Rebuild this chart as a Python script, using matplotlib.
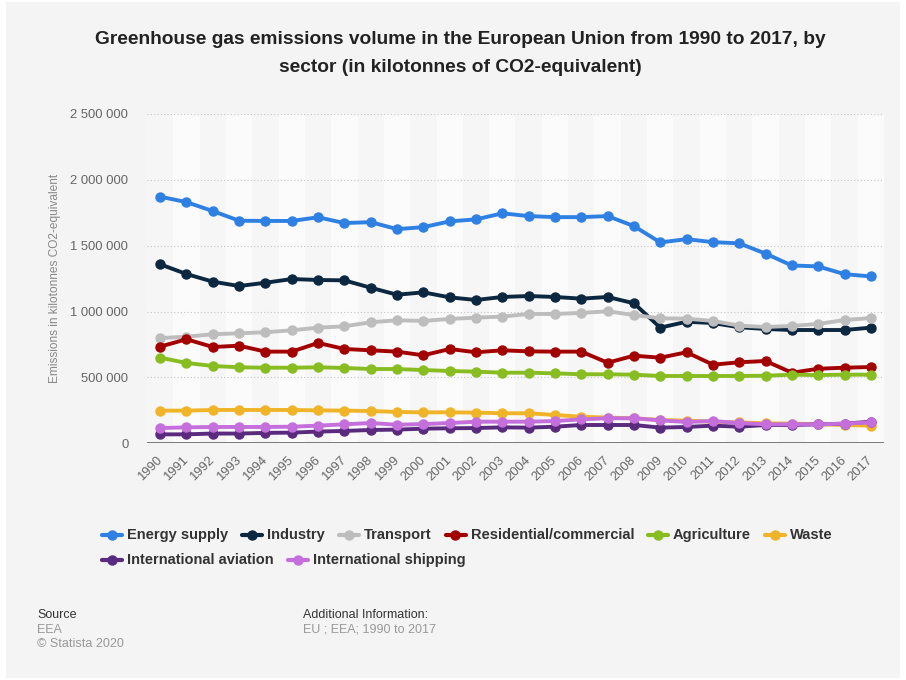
import matplotlib
matplotlib.use('Agg')
import matplotlib.pyplot as plt
from matplotlib.lines import Line2D
from matplotlib.patches import Rectangle
from matplotlib.ticker import FuncFormatter

plt.rcParams['font.family'] = ['Liberation Sans', 'DejaVu Sans']

years = list(range(1990, 2018))

# kilotonnes CO2-equivalent
energy_supply = [1872, 1831, 1763, 1690, 1688, 1688, 1716, 1672, 1679, 1626, 1641, 1685, 1700, 1746,
                 1725, 1717, 1717, 1725, 1649, 1525, 1550, 1527, 1518, 1440, 1350, 1343, 1284, 1267]
industry = [1359, 1285, 1227, 1194, 1219, 1247, 1240, 1237, 1181, 1128, 1146, 1108, 1088, 1111,
            1118, 1111, 1098, 1111, 1063, 878, 923, 913, 881, 868, 860, 860, 860, 878]
transport = [799, 809, 828, 835, 843, 858, 878, 888, 919, 934, 929, 944, 954, 962,
             982, 982, 990, 1002, 974, 949, 946, 929, 893, 883, 891, 906, 936, 951]
residential = [734, 790, 731, 741, 696, 696, 762, 716, 706, 696, 668, 716, 691, 706,
               698, 696, 696, 612, 665, 650, 691, 597, 615, 625, 536, 566, 574, 579]
agriculture = [650, 610, 587, 577, 574, 574, 577, 572, 564, 564, 556, 549, 544, 536,
               536, 531, 524, 524, 521, 511, 511, 511, 511, 513, 521, 518, 521, 521]
waste = [248, 248, 253, 253, 253, 253, 250, 248, 245, 238, 235, 235, 233, 228,
         228, 215, 202, 195, 190, 177, 172, 164, 159, 152, 149, 144, 139, 134]
aviation = [68, 68, 74, 74, 79, 81, 89, 94, 101, 104, 111, 114, 116, 121,
            119, 126, 139, 139, 139, 119, 124, 134, 126, 139, 139, 144, 149, 164]
shipping = [116, 121, 124, 124, 124, 126, 134, 144, 154, 141, 146, 154, 164, 164,
            164, 169, 182, 190, 190, 174, 162, 169, 154, 144, 144, 144, 149, 159]

names = ['Energy supply', 'Industry', 'Transport', 'Residential/commercial',
         'Agriculture', 'Waste', 'International aviation', 'International shipping']
values = [energy_supply, industry, transport, residential, agriculture, waste, aviation, shipping]
colors = ['#2f80e3', '#0c2740', '#bdbdbd', '#a30000', '#88bd22', '#f0b429', '#5a2a7e', '#c46fdc']

W, H = 906, 680
fig = plt.figure(figsize=(W / 100, H / 100), dpi=100, facecolor='white')
fig.patches.append(Rectangle((6 / W, 2 / H), 894 / W, 676 / H, transform=fig.transFigure,
                             facecolor='#f4f4f4', edgecolor='none', zorder=-10))

ax = fig.add_axes([147 / W, 1 - 443.3 / H, 737 / W, 329.3 / H])
ax.set_facecolor('#f6f6f6')
for y in years:
    if y % 2:
        ax.axvspan(y - 0.5, y + 0.5, color='#fbfbfb', lw=0, zorder=0)

for name, vals, c in zip(names, values, colors):
    ax.plot(years, [v * 1000 for v in vals], color=c, lw=2.8, marker='o', ms=6.5,
            mec=c, mfc=c, zorder=3, solid_capstyle='round')

ax.set_xlim(1989.5, 2017.5)
ax.set_ylim(0, 2500000)
ax.set_yticks(range(0, 2500001, 500000))
ax.yaxis.set_major_formatter(FuncFormatter(lambda v, p: f"{int(v):,}".replace(',', ' ')))
ax.yaxis.grid(True, ls=(0, (1, 2)), color='#c4c4c4', lw=0.8)
ax.set_axisbelow(True)
ax.axhline(0, color='#6e6e6e', lw=1.3, zorder=2)
for s in ax.spines.values():
    s.set_visible(False)
ax.tick_params(axis='y', length=0, pad=13.5, labelsize=9.4, labelcolor='#666666')
ax.tick_params(axis='x', length=0, pad=11, labelsize=9.4, labelcolor='#666666')
ax.set_xticks(years)
ax.set_xticklabels([str(y) for y in years], rotation=45, ha='right', va='center',
                   rotation_mode='anchor')

fig.text(55 / W, 1 - 278.6 / H, 'Emissions in kilotonnes CO2-equivalent', rotation=90,
         ha='center', va='center', color='#888888', fontsize=8.6)

fig.text(460 / W, 1 - 40 / H, 'Greenhouse gas emissions volume in the European Union from 1990 to 2017, by',
         ha='center', va='center', fontsize=13.8, fontweight='bold', color='#222222')
fig.text(460 / W, 1 - 68 / H, 'sector (in kilotonnes of CO2-equivalent)',
         ha='center', va='center', fontsize=13.8, fontweight='bold', color='#222222')

# legend, laid out as a flowing row like the original
renderer = fig.canvas.get_renderer()
rows = [(535.3, [0, 1, 2, 3, 4, 5]), (560, [6, 7])]
for ypx, idx in rows:
    x = 102
    for i in idx:
        yf = 1 - ypx / H
        fig.add_artist(Line2D([x / W, (x + 20) / W], [yf, yf], transform=fig.transFigure,
                              color=colors[i], lw=3, solid_capstyle='round'))
        fig.add_artist(Line2D([(x + 10) / W], [yf], transform=fig.transFigure, marker='o',
                              ms=6.5, color=colors[i], lw=0))
        t = fig.text((x + 25) / W, yf, names[i], ha='left', va='center', fontsize=10.5,
                     fontweight='bold', color='#333333')
        bb = t.get_window_extent(renderer)
        x = bb.x1 + 14

fig.text(37 / W, 1 - 615 / H, 'Source', ha='left', va='center', fontsize=9, color='#333333')
fig.text(37 / W, 1 - 630 / H, 'EEA', ha='left', va='center', fontsize=9, color='#999999')
fig.text(37 / W, 1 - 644 / H, '\u00a9 Statista 2020', ha='left', va='center', fontsize=9, color='#999999')
fig.text(303 / W, 1 - 615 / H, 'Additional Information:', ha='left', va='center', fontsize=9, color='#333333')
fig.text(303 / W, 1 - 630 / H, 'EU ; EEA; 1990 to 2017', ha='left', va='center', fontsize=9, color='#999999')

fig.savefig('out.png', dpi=100, facecolor=fig.get_facecolor())
